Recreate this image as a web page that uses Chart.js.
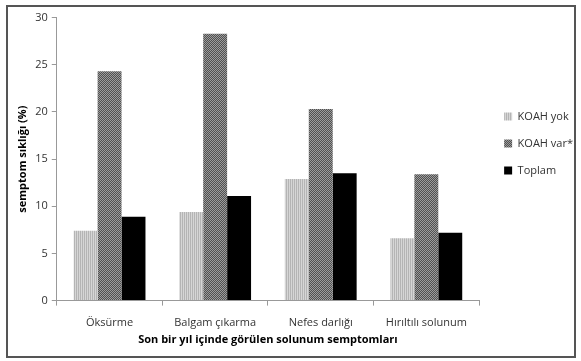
<!DOCTYPE html>
<html>
<head>
<meta charset="utf-8">
<script src="https://cdn.jsdelivr.net/npm/chart.js@4.4.0/dist/chart.umd.min.js"></script>
<style>
  html, body { margin: 0; padding: 0; background: #fff; }
  .frame {
    position: absolute; left: 6px; top: 5px;
    width: 566px; height: 349px;
    border: 2px solid #555;
  }
  canvas { display: block; }
</style>
</head>
<body>
<div class="frame"><canvas id="chart" width="566" height="349"></canvas></div>
<script>
const categories = ['Öksürme', 'Balgam çıkarma', 'Nefes darlığı', 'Hırıltılı solunum'];
const koahYok = [7.4, 9.4, 12.9, 6.6];
const koahVar = [24.3, 28.3, 20.3, 13.4];
const toplam = [8.9, 11.1, 13.5, 7.2];
const yTicks = [0, 5, 10, 15, 20, 25, 30];

// small tiled fills to imitate the hatched bars
function makePattern(w, h, draw) {
  const c = document.createElement('canvas');
  c.width = w; c.height = h;
  draw(c.getContext('2d'));
  return c.getContext('2d').createPattern(c, 'repeat');
}
const stripes = makePattern(2, 2, g => {
  g.fillStyle = '#d6d6d6'; g.fillRect(0, 0, 2, 2);
  g.fillStyle = '#b4b4b4'; g.fillRect(0, 0, 1, 2);
});
const checks = makePattern(2, 2, g => {
  g.fillStyle = '#9c9c9c'; g.fillRect(0, 0, 2, 2);
  g.fillStyle = '#505050'; g.fillRect(0, 0, 1, 1); g.fillRect(1, 1, 1, 1);
});

const font = { family: "'Open Sans', 'Liberation Sans', sans-serif", size: 11 };

// move the legend up and a bit to the right, like in the original
const legendShift = {
  id: 'legendShift',
  afterLayout(chart) {
    const lg = chart.legend;
    lg.bottom -= 70;
    lg.left += 9;
    lg.right += 9;
  }
};

new Chart(document.getElementById('chart'), {
  type: 'bar',
  data: {
    labels: categories,
    datasets: [
      { label: 'KOAH yok', data: koahYok, backgroundColor: stripes },
      { label: 'KOAH var*', data: koahVar, backgroundColor: checks },
      { label: 'Toplam', data: toplam, backgroundColor: '#000' }
    ]
  },
  plugins: [legendShift],
  options: {
    responsive: false,
    animation: false,
    devicePixelRatio: 1,
    categoryPercentage: 0.68,
    barPercentage: 1,
    layout: { padding: { top: 4, right: 0, left: 4, bottom: 10 } },
    plugins: {
      tooltip: { enabled: false },
      legend: {
        position: 'right',
        labels: {
          boxWidth: 8, boxHeight: 8, padding: 16,
          color: '#333', font: font
        }
      }
    },
    scales: {
      x: {
        grid: { display: true, drawOnChartArea: false, drawTicks: true, tickLength: 5, color: '#999', offset: true },
        border: { color: '#999' },
        ticks: { color: '#333', font: font, padding: 11 },
        title: {
          display: true,
          text: 'Son bir yıl içinde görülen solunum semptomları',
          color: '#000', font: { ...font, weight: 'bold' }, padding: { top: -8, bottom: 0 }
        }
      },
      y: {
        min: 0, max: 30,
        afterBuildTicks: axis => { axis.ticks = yTicks.map(v => ({ value: v })); },
        grid: { drawOnChartArea: false, drawTicks: true, tickLength: 5, color: '#999' },
        border: { color: '#999' },
        ticks: { color: '#333', font: font, padding: 4 },
        title: {
          display: true,
          text: 'semptom sıklığı (%)',
          color: '#000', font: { ...font, weight: 'bold' }, padding: { bottom: 2 }
        }
      }
    }
  }
});
</script>
</body>
</html>
